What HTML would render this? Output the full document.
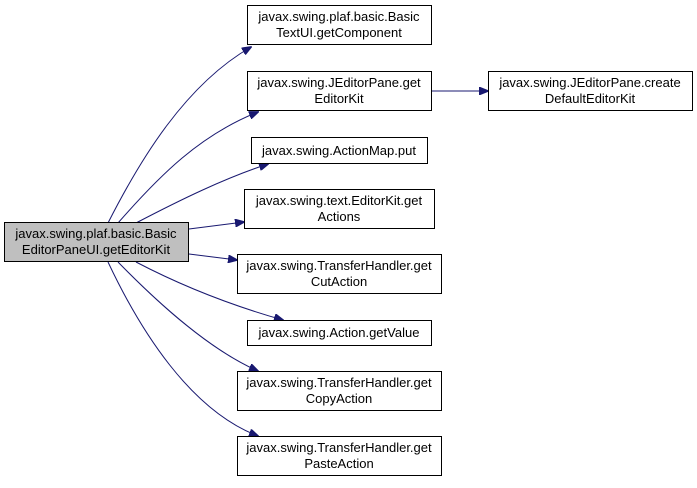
<!DOCTYPE html>
<html><head><meta charset="utf-8"><style>
body{margin:0;background:#fff;}
svg text{font-family:"Liberation Sans",Arial,sans-serif;font-size:13px;fill:#000;}
</style></head><body>
<svg width="697" height="483" viewBox="0 0 697 483" xmlns="http://www.w3.org/2000/svg">
<defs><marker id="a" markerWidth="10" markerHeight="8" refX="9" refY="4" orient="auto" markerUnits="userSpaceOnUse"><path d="M0,0 L10,4 L0,8 Z" fill="#191970" stroke="#191970"/></marker></defs>
<g fill="none" stroke="#191970" stroke-width="1" marker-end="url(#a)">
<path d="M108,223 C140,160 185,85 251,47"/>
<path d="M118,223 C160,175 200,135 258,112"/>
<path d="M136,223 C180,200 225,178 268,164"/>
<path d="M189,229 L244,222"/>
<path d="M189,254 L237,260"/>
<path d="M136,262 C180,285 230,305 283,320"/>
<path d="M118,262 C160,305 210,350 258,371"/>
<path d="M108,262 C140,330 190,410 258,436"/>
<path d="M431,91 L488,91"/>
</g>
<g stroke="#000" stroke-width="1" fill="#fff">
<rect x="4.5" y="222.5" width="184" height="39" fill="#bfbfbf"/>
<rect x="247.5" y="5.5" width="184" height="39"/>
<rect x="247.5" y="71.5" width="184" height="39"/>
<rect x="251.5" y="137.5" width="176" height="26"/>
<rect x="244.5" y="189.5" width="190" height="39"/>
<rect x="237.5" y="254.5" width="204" height="39"/>
<rect x="247.5" y="320.5" width="184" height="25"/>
<rect x="237.5" y="371.5" width="204" height="39"/>
<rect x="237.5" y="436.5" width="204" height="39"/>
<rect x="488.5" y="71.5" width="204" height="39"/>
</g>
<g text-anchor="middle">
<text x="96" y="238">javax.swing.plaf.basic.Basic</text><text x="96" y="254">EditorPaneUI.getEditorKit</text>
<text x="339" y="21">javax.swing.plaf.basic.Basic</text><text x="339" y="37">TextUI.getComponent</text>
<text x="339" y="87">javax.swing.JEditorPane.get</text><text x="339" y="103">EditorKit</text>
<text x="339" y="155">javax.swing.ActionMap.put</text>
<text x="339" y="205">javax.swing.text.EditorKit.get</text><text x="339" y="221">Actions</text>
<text x="339" y="270">javax.swing.TransferHandler.get</text><text x="339" y="286">CutAction</text>
<text x="339" y="337">javax.swing.Action.getValue</text>
<text x="339" y="387">javax.swing.TransferHandler.get</text><text x="339" y="403">CopyAction</text>
<text x="339" y="452">javax.swing.TransferHandler.get</text><text x="339" y="468">PasteAction</text>
<text x="590" y="87">javax.swing.JEditorPane.create</text><text x="590" y="103">DefaultEditorKit</text>
</g>
</svg>
</body></html>
